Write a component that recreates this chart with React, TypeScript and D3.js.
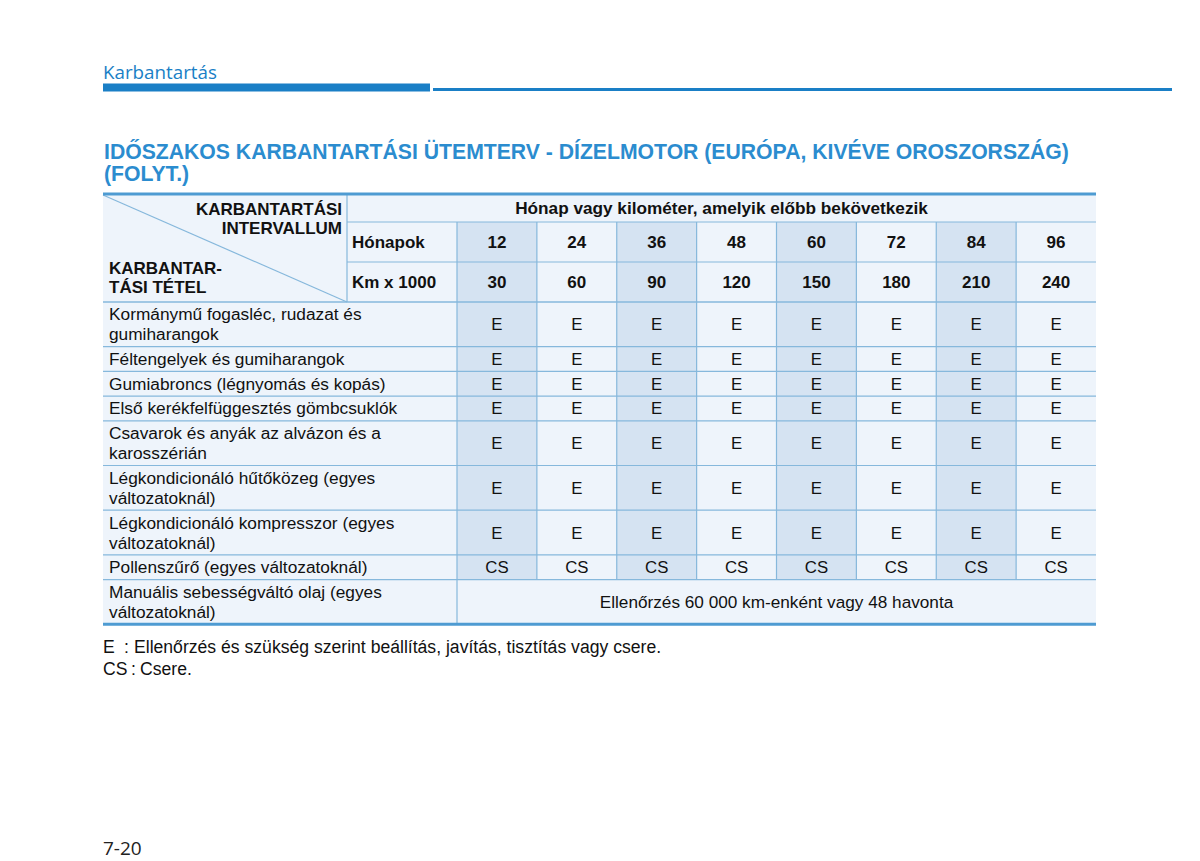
import React from "react";
import * as d3 from "d3";

const sectionTitle = "Karbantartás";
const titleLines = [
  "IDŐSZAKOS KARBANTARTÁSI ÜTEMTERV - DÍZELMOTOR (EURÓPA, KIVÉVE OROSZORSZÁG)",
  "(FOLYT.)",
];
const headerSpan = "Hónap vagy kilométer, amelyik előbb bekövetkezik";
const cornerTop = ["KARBANTARTÁSI", "INTERVALLUM"];
const cornerBottom = ["KARBANTAR-", "TÁSI TÉTEL"];
const monthsLabel = "Hónapok";
const kmLabel = "Km x 1000";
const months = [12, 24, 36, 48, 60, 72, 84, 96];
const kms = [30, 60, 90, 120, 150, 180, 210, 240];

const items = [
  ["Kormánymű fogasléc, rudazat és", "gumiharangok"],
  ["Féltengelyek és gumiharangok"],
  ["Gumiabroncs (légnyomás és kopás)"],
  ["Első kerékfelfüggesztés gömbcsuklók"],
  ["Csavarok és anyák az alvázon és a", "karosszérián"],
  ["Légkondicionáló hűtőközeg (egyes", "változatoknál)"],
  ["Légkondicionáló kompresszor (egyes", "változatoknál)"],
  ["Pollenszűrő (egyes változatoknál)"],
  ["Manuális sebességváltó olaj (egyes", "változatoknál)"],
];
const actions: (string[] | string)[] = [
  ["E", "E", "E", "E", "E", "E", "E", "E"],
  ["E", "E", "E", "E", "E", "E", "E", "E"],
  ["E", "E", "E", "E", "E", "E", "E", "E"],
  ["E", "E", "E", "E", "E", "E", "E", "E"],
  ["E", "E", "E", "E", "E", "E", "E", "E"],
  ["E", "E", "E", "E", "E", "E", "E", "E"],
  ["E", "E", "E", "E", "E", "E", "E", "E"],
  ["CS", "CS", "CS", "CS", "CS", "CS", "CS", "CS"],
  "Ellenőrzés 60 000 km-enként vagy 48 havonta",
];
const legend = [
  ["E", "Ellenőrzés és szükség szerint beállítás, javítás, tisztítás vagy csere."],
  ["CS", "Csere."],
];
const pageNumber = "7-20";

const BLUE = "#1a7fc6";
const TITLE_BLUE = "#2b8ccf";
const GRID = "#86b8dc";
const THICK = "#4e9bd2";
const LIGHT = "#eef4fb";
const DARK = "#d5e3f2";
const FONT = "'Liberation Sans', Arial, Helvetica, sans-serif";
const HFONT = "'Open Sans', 'Noto Sans', sans-serif";

export default function App() {
  const W = 1200, H = 861;
  const xL = 103, xMid = 347, xData = 457, xR = 1096;
  const yTop = 194, yH1 = 222, yH2 = 262, yH3 = 302;
  const x = d3.scaleBand<number>().domain(months).range([xData, xR]);
  const bw = x.bandwidth();

  const rowH = items.map((l) => (l.length > 1 ? 44.7 : 24.7));
  const rowY: number[] = [];
  let acc = yH3;
  rowH.forEach((h) => { rowY.push(acc); acc += h; });
  const yBot = acc;
  const lastRowTop = rowY[rowY.length - 1];

  return (
    <svg width={W} height={H} style={{ display: "block", position: "absolute", left: 0, top: 0 }}>
      <rect width={W} height={H} fill="#fff" />
      <text x={103} y={79} fontFamily={HFONT} fontSize={18.8} fill={BLUE}>{sectionTitle}</text>
      <rect x={103} y={83.5} width={327} height={8} fill={BLUE} />
      <rect x={433} y={88} width={739} height={3} fill={BLUE} />

      {titleLines.map((t, i) => (
        <text key={i} x={104} y={158.5 + i * 22.5} fontFamily={FONT} fontWeight="bold" fontSize={21.2} fill={TITLE_BLUE}>{t}</text>
      ))}

      <rect x={xL} y={yTop} width={xR - xL} height={yBot - yTop} fill={LIGHT} />
      {months.map((m, i) => i % 2 === 0 ? (
        <rect key={m} x={x(m)} y={yH1} width={bw} height={lastRowTop - yH1} fill={DARK} />
      ) : null)}

      <g stroke={GRID} strokeWidth={1.2}>
        <line x1={xMid} x2={xR} y1={yH1} y2={yH1} />
        <line x1={xMid} x2={xR} y1={yH2} y2={yH2} />
        <line x1={xL} x2={xR} y1={yH3} y2={yH3} strokeWidth={1.6} />
        {rowY.slice(1).map((y, i) => (
          <line key={i} x1={xL} x2={xR} y1={y} y2={y} />
        ))}
        <line x1={xMid} x2={xMid} y1={yTop} y2={yH3} />
        <line x1={xData} x2={xData} y1={yH1} y2={yBot} />
        {months.slice(1).map((m) => (
          <line key={m} x1={x(m)} x2={x(m)} y1={yH1} y2={lastRowTop} />
        ))}
        <line x1={xL} y1={yTop + 1} x2={xMid} y2={yH3} />
      </g>
      <line x1={xL} x2={xR} y1={yTop} y2={yTop} stroke={THICK} strokeWidth={3} />
      <line x1={xL} x2={xR} y1={yBot} y2={yBot} stroke={THICK} strokeWidth={3} />

      <g fontFamily={FONT} fontWeight="bold" fontSize={17} fill="#111">
        {cornerTop.map((t, i) => (
          <text key={t} x={342} y={215 + i * 19} textAnchor="end">{t}</text>
        ))}
        {cornerBottom.map((t, i) => (
          <text key={t} x={109} y={274 + i * 19}>{t}</text>
        ))}
        <text x={(xMid + xR) / 2} y={214} textAnchor="middle" fontSize={17.2}>{headerSpan}</text>
        <text x={352} y={248}>{monthsLabel}</text>
        <text x={352} y={288}>{kmLabel}</text>
        {months.map((m) => (
          <text key={m} x={(x(m) as number) + bw / 2} y={248} textAnchor="middle">{m}</text>
        ))}
        {kms.map((k, i) => (
          <text key={k} x={(x(months[i]) as number) + bw / 2} y={288} textAnchor="middle">{k}</text>
        ))}
      </g>

      <g fontFamily={FONT} fontSize={17.3} fill="#111">
        {items.map((lines, r) => {
          const cy = rowY[r] + rowH[r] / 2;
          return lines.map((t, j) => (
            <text key={r + "-" + j} x={109} y={cy + 6 + (lines.length > 1 ? (j - 0.5) * 20 : 0)}>{t}</text>
          ));
        })}
      </g>
      <g fontFamily={FONT} fill="#111">
        {actions.map((a, r) => {
          const cy = rowY[r] + rowH[r] / 2 + 6;
          if (typeof a === "string") {
            const cx = (xData + xR) / 2;
            return (
              <text key={r} x={cx} y={cy} textAnchor="middle" fontSize={17.2}>{a}</text>
            );
          }
          return a.map((v, c) => {
            const cx = (x(months[c]) as number) + bw / 2;
            return (
              <text key={r + "-" + c} x={cx} y={cy} textAnchor="middle" fontSize={16.8}>{v}</text>
            );
          });
        })}
      </g>

      <g fontFamily={FONT} fontSize={17.6} fill="#111">
        {legend.map(([k, t], i) => (
          <g key={k}>
            <text x={103} y={653 + i * 22}>{k}</text>
            <text x={i === 0 ? 124 : 131} y={653 + i * 22}>:</text>
            <text x={i === 0 ? 134 : 140} y={653 + i * 22}>{t}</text>
          </g>
        ))}
      </g>

      <text x={103} y={855} fontFamily={HFONT} fontSize={19} fill="#222">{pageNumber}</text>
    </svg>
  );
}
